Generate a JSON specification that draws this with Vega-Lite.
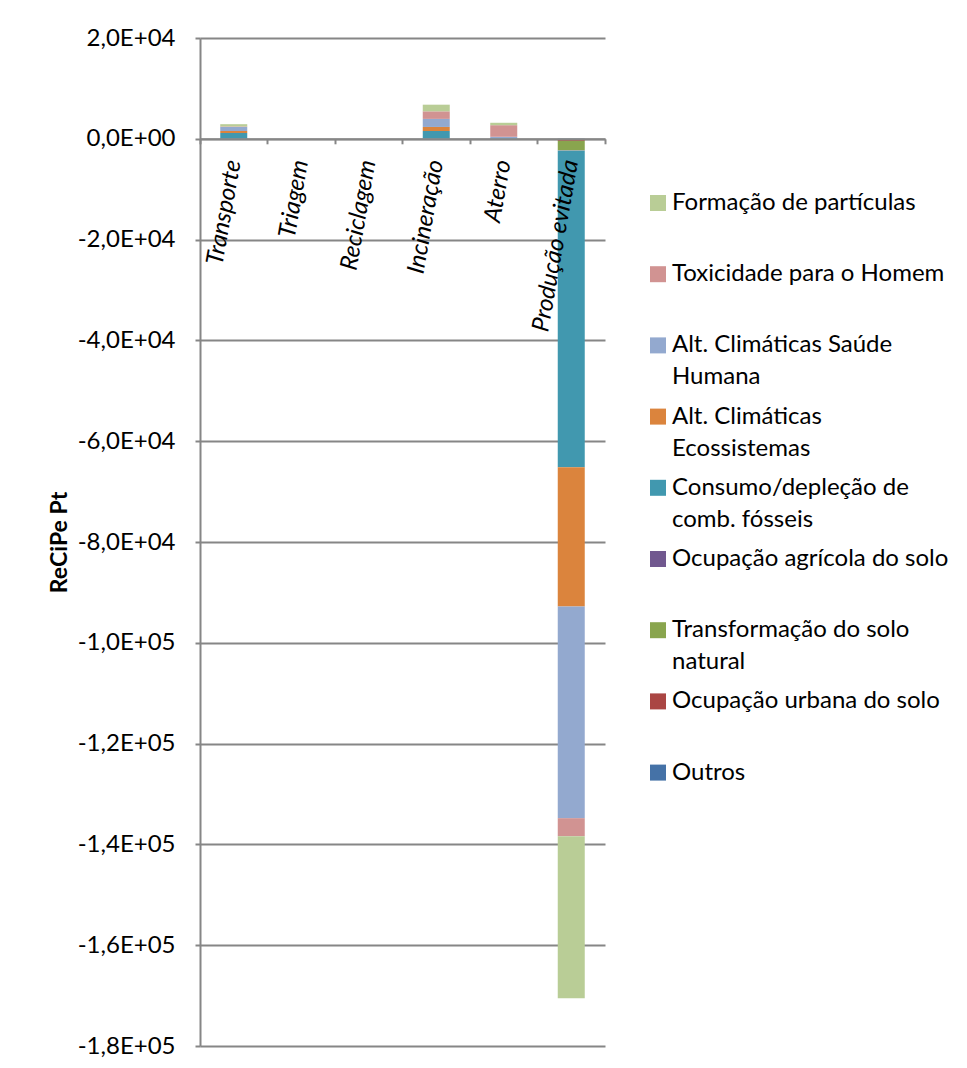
{
  "$schema": "https://vega.github.io/schema/vega-lite/v6.json",
  "width": 405,
  "height": 1008,
  "autosize": {"type": "none"},
  "padding": {"left": 200, "top": 38, "right": 362, "bottom": 22},
  "background": "#ffffff",
  "config": {
    "view": {"stroke": null},
    "font": "Lato"
  },
  "data": {
    "values": [
      {"categoria": "Transporte", "serie": "Outros", "ordem": 1, "valor": 50},
      {"categoria": "Transporte", "serie": "Consumo/depleção de comb. fósseis", "ordem": 5, "valor": 1100},
      {"categoria": "Transporte", "serie": "Alt. Climáticas Ecossistemas", "ordem": 6, "valor": 400},
      {"categoria": "Transporte", "serie": "Alt. Climáticas Saúde Humana", "ordem": 7, "valor": 800},
      {"categoria": "Transporte", "serie": "Toxicidade para o Homem", "ordem": 8, "valor": 100},
      {"categoria": "Transporte", "serie": "Formação de partículas", "ordem": 9, "valor": 450},

      {"categoria": "Incineração", "serie": "Outros", "ordem": 1, "valor": 50},
      {"categoria": "Incineração", "serie": "Consumo/depleção de comb. fósseis", "ordem": 5, "valor": 1500},
      {"categoria": "Incineração", "serie": "Alt. Climáticas Ecossistemas", "ordem": 6, "valor": 800},
      {"categoria": "Incineração", "serie": "Alt. Climáticas Saúde Humana", "ordem": 7, "valor": 1600},
      {"categoria": "Incineração", "serie": "Toxicidade para o Homem", "ordem": 8, "valor": 1500},
      {"categoria": "Incineração", "serie": "Formação de partículas", "ordem": 9, "valor": 1320},

      {"categoria": "Aterro", "serie": "Consumo/depleção de comb. fósseis", "ordem": 5, "valor": 100},
      {"categoria": "Aterro", "serie": "Alt. Climáticas Saúde Humana", "ordem": 7, "valor": 300},
      {"categoria": "Aterro", "serie": "Toxicidade para o Homem", "ordem": 8, "valor": 2300},
      {"categoria": "Aterro", "serie": "Formação de partículas", "ordem": 9, "valor": 480},

      {"categoria": "Produção evitada", "serie": "Outros", "ordem": 1, "valor": -100},
      {"categoria": "Produção evitada", "serie": "Ocupação urbana do solo", "ordem": 2, "valor": -300},
      {"categoria": "Produção evitada", "serie": "Transformação do solo natural", "ordem": 3, "valor": -1900},
      {"categoria": "Produção evitada", "serie": "Ocupação agrícola do solo", "ordem": 4, "valor": -50},
      {"categoria": "Produção evitada", "serie": "Consumo/depleção de comb. fósseis", "ordem": 5, "valor": -62800},
      {"categoria": "Produção evitada", "serie": "Alt. Climáticas Ecossistemas", "ordem": 6, "valor": -27650},
      {"categoria": "Produção evitada", "serie": "Alt. Climáticas Saúde Humana", "ordem": 7, "valor": -42000},
      {"categoria": "Produção evitada", "serie": "Toxicidade para o Homem", "ordem": 8, "valor": -3570},
      {"categoria": "Produção evitada", "serie": "Formação de partículas", "ordem": 9, "valor": -32150}
    ]
  },
  "mark": {"type": "bar", "width": {"band": 0.4}},
  "encoding": {
    "x": {
      "field": "categoria",
      "type": "nominal",
      "scale": {
        "domain": ["Transporte", "Triagem", "Reciclagem", "Incineração", "Aterro", "Produção evitada"],
        "paddingInner": 0,
        "paddingOuter": 0
      },
      "axis": {
        "title": null,
        "zindex": 1,
        "offset": -907.2,
        "grid": false,
        "domainColor": "#868686",
        "domainWidth": 2,
        "tickColor": "#868686",
        "tickWidth": 2,
        "tickSize": 5,
        "bandPosition": 1,
        "tickExtra": true,
        "labelAngle": -80,
        "labelAlign": "right",
        "labelBaseline": "middle",
        "labelOffset": 0,
        "labelPadding": 16,
        "labelFont": "Lato",
        "labelFontSize": 24,
        "labelFontStyle": "italic",
        "labelColor": "#000000",
        "labelLimit": 300
      }
    },
    "y": {
      "field": "valor",
      "type": "quantitative",
      "stack": "zero",
      "scale": {"domain": [-180000, 20000], "nice": false, "zero": false},
      "axis": {
        "title": "ReCiPe Pt",
        "titleFont": "Lato",
        "titleFontSize": 23,
        "titleFontWeight": "bold",
        "titleColor": "#000000",
        "titlePadding": 6,
        "values": [20000, 0, -20000, -40000, -60000, -80000, -100000, -120000, -140000, -160000, -180000],
        "labelExpr": "datum.value == 0 ? '0,0E+00' : (datum.value < 0 ? '-' : '') + replace(format(abs(datum.value) / pow(10, floor(log(abs(datum.value)) / LN10 + 1e-9)), '.1f'), '.', ',') + 'E+0' + floor(log(abs(datum.value)) / LN10 + 1e-9)",
        "labelFont": "Lato",
        "labelFontSize": 24,
        "labelColor": "#000000",
        "labelPadding": 20,
        "tickSize": 5,
        "tickColor": "#868686",
        "tickWidth": 2,
        "domainColor": "#868686",
        "domainWidth": 2,
        "grid": true,
        "gridColor": "#868686",
        "gridWidth": 2
      }
    },
    "color": {
      "field": "serie",
      "type": "nominal",
      "scale": {
        "domain": [
          "Formação de partículas",
          "Toxicidade para o Homem",
          "Alt. Climáticas Saúde Humana",
          "Alt. Climáticas Ecossistemas",
          "Consumo/depleção de comb. fósseis",
          "Ocupação agrícola do solo",
          "Transformação do solo natural",
          "Ocupação urbana do solo",
          "Outros"
        ],
        "range": ["#B9CD96", "#D19392", "#93A9CF", "#DB843D", "#4198AF", "#71588F", "#89A54E", "#AA4643", "#4572A7"]
      },
      "legend": {
        "orient": "none",
        "legendX": 446,
        "legendY": 153,
        "title": null,
        "padding": 0,
        "symbolType": "square",
        "symbolSize": 256,
        "symbolStrokeWidth": 0,
        "symbolOpacity": 1,
        "labelFont": "Lato",
        "labelFontSize": 24,
        "labelColor": "#000000",
        "labelLimit": 400,
        "labelOffset": 2,
        "rowPadding": 15.2,
        "labelBaseline": "middle",
        "labelExpr": "datum.label == 'Alt. Climáticas Saúde Humana' ? ['Alt. Climáticas  Saúde', 'Humana'] : datum.label == 'Alt. Climáticas Ecossistemas' ? ['Alt. Climáticas', 'Ecossistemas'] : datum.label == 'Consumo/depleção de comb. fósseis' ? ['Consumo/depleção de', 'comb. fósseis'] : datum.label == 'Transformação do solo natural' ? ['Transformação  do solo', 'natural'] : [datum.label, '']",
        "encode": {"labels": {"update": {"lineHeight": {"value": 32}}}}
      }
    },
    "order": {"field": "ordem", "type": "quantitative"}
  }
}
